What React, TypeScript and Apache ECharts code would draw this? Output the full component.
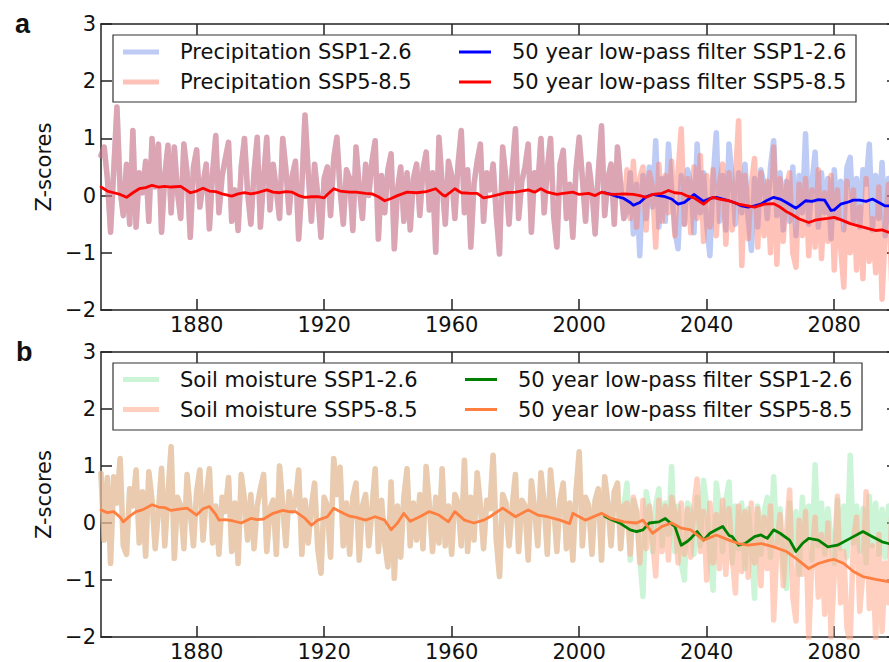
import React, { useEffect, useRef } from "react";
import * as echarts from "echarts";

const HIST_START = 1850;
const X_MIN = 1850;
const X_MAX = 2100;
const xTickYears = [1880, 1920, 1960, 2000, 2040, 2080];

// ---- Panel a: precipitation (1850-2014 historical, 2015-2100 scenarios)
const precipHist = [
  0.70, 0.85, 0.30, -0.64, 0.45, 1.55, 0.10, -0.35, 0.55, -0.50,
  1.14, -0.55, 0.40, 0.05, 0.60, -0.45, 1.00, 0.15, 0.90, -0.64,
  0.35, 0.88, -0.30, 0.85, 0.05, -0.40, 0.90, 0.40, -0.73, 0.50,
  0.80, -0.20, 0.20, 0.55, -0.58, 0.40, 1.05, -0.30, 0.35, 0.65,
  0.93, -0.45, 0.10, -0.61, 0.50, 1.00, 0.05, -0.50, 0.40, 1.02,
  -0.55, 0.30, 1.02, -0.25, 0.55, 0.10, -0.40, 1.00, 0.45, -0.30,
  0.35, 0.60, -0.76, 0.15, 1.41, 0.40, -0.45, 0.55, 0.00, -0.73,
  0.30, 0.50, -0.35, 0.65, 1.02, 0.10, -0.50, 0.45, 0.30, -0.61,
  0.85, 0.15, -0.40, 0.55, 0.00, 0.60, 0.96, -0.76, 0.35, -0.30,
  0.45, 0.73, -0.93, 0.10, 0.50, -0.45, 0.40, -0.60, 0.30, 0.55,
  -0.35, 0.45, 0.76, -0.25, 0.40, -0.99, 1.02, 0.20, -0.50, 0.60,
  0.35, -0.40, 0.55, 1.14, -0.30, 0.45, -0.90, 0.20, 0.60, 0.90,
  -0.45, 0.40, 0.10, 0.55, -0.35, -1.02, 0.85, 0.30, -0.50, 0.45,
  1.17, -0.40, 0.25, 0.50, 0.90, -0.64, 0.40, 0.15, 1.00, -0.30,
  0.45, 1.00, -0.35, -0.90, 0.55, 0.79, -0.40, 0.20, -0.73, 0.45,
  1.02, 0.30, -0.45, 0.55, 0.10, -0.67, 0.40, 1.22, -0.35, 0.30,
  0.55, -0.50, 0.85, 0.20, -0.40,
];
const precipSsp126 = [
  -0.30, 0.40, -0.67, 0.20, -1.05, 0.35, -0.40, 0.50, -0.20, 0.96,
  -0.55, 0.30, -0.45, 0.90, 0.10, -0.60, -0.93, 0.35, -0.50, 0.45,
  0.20, -0.65, 0.90, -0.30, 0.40, -0.50, -1.05, 0.30, 1.10, -0.45,
  0.35, -0.60, 0.90, 0.25, -0.50, 0.40, -0.30, 0.55, -0.40, -0.96,
  0.30, -0.55, 0.45, 0.20, -0.40, 0.50, 0.96, -0.35, 0.40, -0.60,
  0.25, -0.45, 0.50, -0.70, 0.35, -0.30, 1.08, -0.50, 0.20, 0.76,
  -0.55, 0.40, -0.30, 0.30, -0.75, 0.45, -0.40, 0.25, -0.60, 0.50,
  0.67, -0.45, 0.30, -0.55, 0.45, 0.20, 0.90, -0.60, 0.35, -0.40,
  0.58, -0.70, 0.30, -0.50, 0.40, -0.35,
];
const precipSsp585 = [
  0.45, -0.40, 0.60, -0.55, 0.30, 0.50, -0.60, 0.40, 0.15, -0.90,
  0.55, -0.45, 0.35, -0.30, 0.60, -0.70, 0.40, 1.17, -0.50, 0.30,
  -0.65, 0.50, -0.40, 0.70, -0.80, 0.35, -0.55, 0.45, -0.70, 0.20,
  0.55, -0.85, 0.40, -0.60, 0.30, 1.31, -1.22, 0.35, -0.75, 0.20,
  0.65, -0.90, 0.40, -0.70, 0.25, -1.00, 0.85, -1.20, 0.30, -0.80,
  0.15, 0.40, -1.00, -1.25, 0.20, -0.70, 0.30, -1.05, 0.10, -0.90,
  0.45, -1.10, 0.05, -0.80, 0.35, -1.30, 0.10, -0.90, -1.60, 0.25,
  -1.00, 0.10, -1.30, -0.20, -1.45, 0.30, -1.15, -0.40, -1.35, 0.15,
  -1.81, -0.60, 0.20, -1.50, -0.30, -1.20,
];
const precipFilterYears585 = [
  1850, 1852, 1854, 1856, 1858, 1860, 1862, 1864, 1866, 1868, 1870, 1872, 1875, 1878, 1880, 1882, 1884, 1886, 1888, 1891,
  1893, 1895, 1897, 1899, 1902, 1904, 1906, 1908, 1910, 1912, 1914, 1916, 1918, 1920, 1921, 1923, 1925, 1928, 1930, 1933,
  1935, 1937, 1939, 1941, 1943, 1946, 1949, 1952, 1955, 1957, 1958, 1961, 1963, 1966, 1968, 1970, 1972, 1975, 1977, 1980,
  1984, 1986, 1988, 1990, 1993, 1995, 1998, 2000, 2003, 2005, 2007, 2009, 2011, 2014, 2017, 2019, 2021, 2023, 2026, 2028,
  2030, 2032, 2034, 2036, 2039, 2041, 2042, 2044, 2047, 2050, 2052, 2055, 2058, 2061, 2063, 2065, 2067, 2069, 2072, 2074,
  2076, 2078, 2080, 2082, 2085, 2087, 2089, 2091, 2093, 2095, 2097, 2100,
];
const precipFilter585 = [
  0.15, 0.08, 0.05, 0.02, -0.03, 0.05, 0.12, 0.14, 0.18, 0.15, 0.16, 0.15, 0.16, 0.05, 0.08, 0.13, 0.08, 0.07, 0.03, -0.01,
  0.03, 0.05, 0.03, 0.05, 0.10, 0.06, 0.05, 0.07, 0.06, 0.00, -0.03, -0.02, -0.02, -0.04, 0.02, 0.12, 0.08, 0.06, 0.06, 0.04,
  0.03, -0.02, -0.09, -0.05, 0.00, 0.06, 0.05, 0.07, 0.12, 0.02, -0.01, 0.12, 0.05, 0.04, 0.04, -0.04, -0.02, 0.02, 0.05, 0.06,
  0.10, 0.06, 0.12, 0.06, 0.02, 0.04, 0.06, 0.02, 0.04, 0.00, 0.06, 0.03, 0.02, 0.03, 0.02, 0.00, -0.03, 0.02, 0.04, 0.09,
  0.05, 0.04, -0.01, -0.04, -0.15, -0.06, -0.03, -0.06, -0.09, -0.15, -0.17, -0.20, -0.15, -0.14, -0.20, -0.28, -0.34, -0.41, -0.47, -0.43,
  -0.41, -0.40, -0.38, -0.42, -0.49, -0.52, -0.55, -0.58, -0.61, -0.60, -0.64, -0.66,
];
const precipFilterYears126 = [
  2008, 2010, 2012, 2014, 2016, 2017, 2019, 2021, 2023, 2025, 2027, 2029, 2031, 2033, 2035, 2036, 2038, 2039, 2041, 2043,
  2045, 2047, 2049, 2051, 2053, 2055, 2057, 2059, 2061, 2063, 2065, 2068, 2069, 2071, 2073, 2075, 2077, 2079, 2080, 2082,
  2084, 2086, 2088, 2090, 2092, 2094, 2096, 2098, 2100,
];
const precipFilter126 = [
  0.05, 0.02, -0.02, -0.05, -0.12, -0.17, -0.12, -0.02, 0.02, 0.00, -0.02, -0.06, -0.15, -0.12, -0.03, 0.02, -0.06, -0.10, -0.05, -0.03,
  -0.06, -0.09, -0.13, -0.18, -0.20, -0.18, -0.15, -0.08, -0.03, -0.06, -0.12, -0.22, -0.18, -0.09, -0.10, -0.07, -0.08, -0.26, -0.25, -0.15,
  -0.12, -0.08, -0.08, -0.10, -0.06, -0.12, -0.18, -0.18, -0.19,
];

// ---- Panel b: soil moisture
const soilHist = [
  0.87, -0.30, 0.80, -0.71, 0.81, 0.35, 1.13, -0.40, -0.55, 0.60,
  0.30, 0.93, -0.35, 0.55, -0.58, 0.90, 0.40, -0.45, 0.20, 0.96,
  -0.40, 0.50, 1.34, -0.62, 0.45, 0.30, -0.45, 0.85, 0.20, -0.40,
  0.55, 0.93, -0.30, 0.45, 0.95, -0.35, 0.30, -0.55, 0.45, 0.20,
  0.80, -0.50, 0.35, -0.71, 0.85, 0.40, -0.30, 0.50, -0.45, 0.30,
  0.60, 0.85, -0.50, 0.25, 0.40, -0.55, 1.00, 0.30, -0.40, 0.55,
  0.20, 0.35, 0.93, -0.55, 0.40, -0.35, 0.30, 0.70, -0.45, -0.88,
  0.45, 0.30, -0.60, 1.13, 0.50, 0.98, -0.40, 0.35, -0.55, 0.45,
  0.70, -0.65, 0.30, 0.50, -0.40, 0.25, 0.95, -0.50, 0.40, -0.35,
  -0.77, 0.72, -0.97, 0.30, -0.60, 0.45, 0.95, -0.40, 0.35, -0.30,
  0.50, -0.45, 0.99, 0.30, -0.50, 0.45, -0.35, 0.95, -0.40, 0.30,
  -0.55, 0.50, 0.35, -0.40, 1.10, -0.50, 0.45, -0.30, 0.88, 0.30,
  -0.45, 0.40, 0.25, 1.19, -0.30, -0.94, 0.50, 0.35, -0.40, 0.30,
  0.85, -0.50, 0.40, 0.30, -0.65, 0.74, 0.25, -0.40, 0.88, 0.35,
  -0.55, 0.93, 0.30, -0.50, 0.40, 0.70, -0.45, 0.35, -0.65, 0.55,
  1.25, -0.40, 0.45, 0.30, -0.55, 0.40, 0.60, -0.65, 0.81, 0.35,
  -0.40, 0.55, 0.70, -0.45, 0.30,
];
const soilSsp126 = [
  0.70, -0.65, 0.40, 0.20, -0.60, -1.29, 0.55, 0.25, -0.50, 0.30,
  0.60, -0.40, 0.35, -0.20, 0.99, -0.50, 0.30, -0.70, -1.00, 0.35,
  0.20, -0.55, 0.45, -0.40, 0.75, 0.30, -0.60, -1.18, 0.70, 0.25,
  -0.50, 0.40, 0.72, -0.70, 0.30, -0.45, 0.35, -0.80, 0.25, -0.40,
  -1.32, 0.30, -0.55, 0.20, 0.45, -0.60, 0.81, -0.35, 0.25, -0.70,
  -1.15, 0.35, -0.50, 0.20, -0.90, 0.45, -0.30, 0.30, -0.65, 1.02,
  -0.40, 0.35, -0.55, 0.25, -0.30, -0.71, 0.40, -0.45, 0.30, -0.60,
  1.19, -0.35, 0.30, -0.50, 0.25, -0.70, 0.47, -0.40, 0.35, -0.55,
  0.24, -0.60, 0.30, -0.45, 0.20, -0.50,
];
const soilSsp585 = [
  0.35, -0.55, 0.45, 0.20, -0.70, 0.40, -0.45, 0.30, -0.30, -0.93,
  0.40, -0.50, 0.30, -0.65, 0.45, 0.20, -0.70, 0.35, -0.55, 0.25,
  -0.60, 0.30, 0.77, -0.50, 0.20, -1.00, 0.35, -0.70, 0.15, -0.80,
  0.40, -0.90, 0.25, -0.60, -1.23, 0.30, -0.85, 0.20, -0.95, 0.35,
  -0.70, 0.25, -1.10, 0.10, -0.80, 0.30, -1.70, -0.40, 0.15, -1.10,
  -0.20, 0.58, -1.30, -1.72, 0.05, -0.90, 0.20, -2.05, -0.60, 0.10,
  -1.30, -0.20, -1.60, 0.00, -2.00, -0.90, 0.47, -1.40, -0.50, -1.85,
  -2.10, -0.30, 0.10, -1.55, -0.85, 0.55, -1.50, -0.40, -2.05, -0.20,
  -1.90, -0.70, -1.40, 0.10, -2.05, -1.20,
];
const soilFilterYears585 = [
  1850, 1852, 1854, 1856, 1857, 1859, 1861, 1863, 1866, 1868, 1870, 1872, 1874, 1877, 1880, 1882, 1884, 1886, 1887, 1889,
  1891, 1894, 1897, 1899, 1901, 1904, 1907, 1909, 1911, 1914, 1916, 1918, 1921, 1923, 1926, 1928, 1930, 1933, 1936, 1939,
  1941, 1943, 1945, 1947, 1950, 1953, 1956, 1959, 1961, 1964, 1967, 1970, 1972, 1976, 1980, 1984, 1987, 1990, 1994, 1997,
  1998, 2002, 2007, 2010, 2014, 2018, 2020, 2023, 2026, 2029, 2032, 2035, 2039, 2043, 2047, 2050, 2053, 2057, 2061, 2065,
  2068, 2072, 2075, 2078, 2080, 2083, 2086, 2089, 2093, 2097, 2100,
];
const soilFilter585 = [
  0.23, 0.18, 0.20, 0.10, 0.02, 0.12, 0.20, 0.23, 0.32, 0.28, 0.27, 0.22, 0.24, 0.26, 0.14, 0.25, 0.29, 0.15, 0.05, 0.06,
  0.04, 0.00, 0.08, 0.06, 0.07, 0.17, 0.22, 0.20, 0.20, 0.08, -0.04, 0.05, 0.11, 0.26, 0.17, 0.12, 0.10, 0.05, 0.11, 0.05,
  -0.12, 0.00, 0.17, 0.03, 0.11, 0.20, 0.14, 0.02, 0.20, 0.05, 0.00, 0.05, 0.11, 0.26, 0.11, 0.23, 0.14, 0.11, 0.05, -0.01,
  0.17, 0.05, 0.17, 0.08, 0.02, 0.00, 0.05, -0.18, -0.06, 0.00, -0.09, -0.12, -0.30, -0.21, -0.30, -0.36, -0.39, -0.36, -0.42, -0.50,
  -0.62, -0.80, -0.71, -0.66, -0.64, -0.71, -0.85, -0.94, -0.99, -1.03, -1.05,
];
const soilFilterYears126 = [
  2008, 2010, 2013, 2016, 2018, 2020, 2022, 2025, 2027, 2029, 2030, 2032, 2034, 2035, 2037, 2039, 2041, 2043, 2045, 2047,
  2048, 2050, 2052, 2055, 2057, 2059, 2061, 2063, 2066, 2068, 2070, 2072, 2075, 2078, 2081, 2085, 2089, 2092, 2095, 2097,
  2100,
];
const soilFilter126 = [
  0.12, 0.06, -0.01, -0.12, -0.15, -0.12, 0.00, 0.02, 0.08, -0.02, -0.06, -0.39, -0.32, -0.27, -0.15, -0.30, -0.18, -0.12, -0.06, -0.22,
  -0.24, -0.39, -0.36, -0.24, -0.21, -0.27, -0.12, -0.18, -0.30, -0.50, -0.36, -0.27, -0.30, -0.42, -0.39, -0.27, -0.15, -0.24, -0.33, -0.36,
  -0.38,
];

const legendNames = {
  precip126: "Precipitation SSP1-2.6",
  precip585: "Precipitation SSP5-8.5",
  filtA126: "50 year low-pass filter SSP1-2.6",
  filtA585: "50 year low-pass filter SSP5-8.5",
  soil126: "Soil moisture SSP1-2.6",
  soil585: "Soil moisture SSP5-8.5",
  filtB126: "50 year low-pass filter SSP1-2.6 (b)",
  filtB585: "50 year low-pass filter SSP5-8.5 (b)",
};

const FONT = "DejaVu Sans";
const AXIS_COLOR = "#222";

function annual(hist: number[], fut: number[]) {
  return hist.concat(fut).map((v, i) => [HIST_START + i, v]);
}
function paired(years: number[], vals: number[]) {
  return years.map((y, i) => [y, vals[i]]);
}

function lineSeries(name: string, data: number[][], color: string, idx: number, width: number) {
  return {
    type: "line",
    name,
    xAxisIndex: idx * 2,
    yAxisIndex: idx * 2,
    data,
    symbol: "none",
    showSymbol: false,
    clip: true,
    silent: true,
    lineStyle: { color, width, join: "round", cap: "round" },
    itemStyle: { color },
  };
}

function xAxes(gridIndex: number) {
  const common = {
    type: "value",
    gridIndex,
    min: X_MIN,
    max: X_MAX,
    splitLine: { show: false },
    axisLine: { show: true, onZero: false, lineStyle: { color: AXIS_COLOR, width: 1.5 } },
    axisTick: { show: true, inside: true, length: 11, customValues: xTickYears, lineStyle: { color: AXIS_COLOR, width: 1.5 } },
  };
  return [
    {
      ...common,
      position: "bottom",
      axisLabel: {
        customValues: xTickYears,
        fontSize: 21,
        fontFamily: FONT,
        color: "#111",
        margin: 4,
        formatter: (v: number) => String(Math.round(v)),
      },
    },
    { ...common, position: "top", axisLabel: { show: false } },
  ];
}
function yAxes(gridIndex: number) {
  const common = {
    type: "value",
    gridIndex,
    min: -2,
    max: 3,
    interval: 1,
    splitLine: { show: false },
    axisLine: { show: true, onZero: false, lineStyle: { color: AXIS_COLOR, width: 1.5 } },
    axisTick: { show: true, inside: true, length: 11, lineStyle: { color: AXIS_COLOR, width: 1.5 } },
  };
  return [
    {
      ...common,
      position: "left",
      name: "Z-scores",
      nameLocation: "middle",
      nameGap: 45,
      nameTextStyle: { fontSize: 21, fontFamily: FONT, color: "#111" },
      axisLabel: {
        fontSize: 21,
        fontFamily: FONT,
        color: "#111",
        margin: 5,
        formatter: (v: number) => String(v).replace("-", "\u2212"),
      },
    },
    { ...common, position: "right", axisLabel: { show: false } },
  ];
}

function legend(left: number, top: number, itemWidth: number, itemHeight: number, names: string[]) {
  return {
    left,
    top,
    orient: "vertical",
    padding: 0,
    itemGap: 9,
    itemWidth,
    itemHeight,
    icon: "rect",
    selectedMode: false,
    data: names,
    formatter: (n: string) => n.replace(" (b)", ""),
    textStyle: { fontSize: 21, fontFamily: FONT, color: "#111", lineHeight: 21, padding: [0, 0, 0, 16] },
  };
}

export default function App() {
  const ref = useRef<HTMLDivElement>(null);
  useEffect(() => {
    if (!ref.current) return;
    const chart = echarts.init(ref.current, null, { renderer: "svg" });
    const option = {
      animation: false,
      backgroundColor: "#fff",
      grid: [
        { left: 101, top: 24, width: 797, height: 286 },
        { left: 101, top: 352, width: 797, height: 285 },
      ],
      xAxis: [...xAxes(0), ...xAxes(1)],
      yAxis: [...yAxes(0), ...yAxes(1)],
      legend: [
        legend(123, 41.5, 36, 5, [legendNames.precip126, legendNames.precip585]),
        legend(459, 41.5, 32, 3, [legendNames.filtA126, legendNames.filtA585]),
        legend(123, 369, 36, 5, [legendNames.soil126, legendNames.soil585]),
        legend(465, 369, 32, 3, [legendNames.filtB126, legendNames.filtB585]),
      ],
      graphic: [
        { type: "rect", shape: { x: 113, y: 35, width: 743, height: 67 }, style: { fill: "none", stroke: "#333", lineWidth: 1.2 }, z: 10 },
        { type: "rect", shape: { x: 113, y: 363, width: 749, height: 67 }, style: { fill: "none", stroke: "#333", lineWidth: 1.2 }, z: 10 },
        { type: "text", x: 15, y: 24, style: { text: "a", fontSize: 27, fontWeight: "bold", fontFamily: "Liberation Sans", fill: "#111", verticalAlign: "middle" } },
        { type: "text", x: 16, y: 352, style: { text: "b", fontSize: 27, fontWeight: "bold", fontFamily: "Liberation Sans", fill: "#111", verticalAlign: "middle" } },
      ],
      series: [
        lineSeries(legendNames.precip126, annual(precipHist, precipSsp126), "rgba(65,105,225,0.35)", 0, 5.5),
        lineSeries(legendNames.precip585, annual(precipHist, precipSsp585), "rgba(255,120,100,0.45)", 0, 5.5),
        lineSeries(legendNames.filtA126, paired(precipFilterYears126, precipFilter126), "#0000ff", 0, 2.8),
        lineSeries(legendNames.filtA585, paired(precipFilterYears585, precipFilter585), "#ff0000", 0, 2.8),
        lineSeries(legendNames.soil126, annual(soilHist, soilSsp126), "rgba(120,225,150,0.38)", 1, 5.5),
        lineSeries(legendNames.soil585, annual(soilHist, soilSsp585), "rgba(255,175,150,0.6)", 1, 5.5),
        lineSeries(legendNames.filtB126, paired(soilFilterYears126, soilFilter126), "#008000", 1, 2.8),
        lineSeries(legendNames.filtB585, paired(soilFilterYears585, soilFilter585), "#ff7f40", 1, 2.8),
      ],
    };
    chart.setOption(option as any);
    return () => chart.dispose();
  }, []);
  return (
    <div style={{ position: "fixed", left: 0, top: 0, width: 889, height: 662, overflow: "hidden", background: "#fff" }}>
      <div ref={ref} style={{ width: 912, height: 662 }} />
    </div>
  );
}
